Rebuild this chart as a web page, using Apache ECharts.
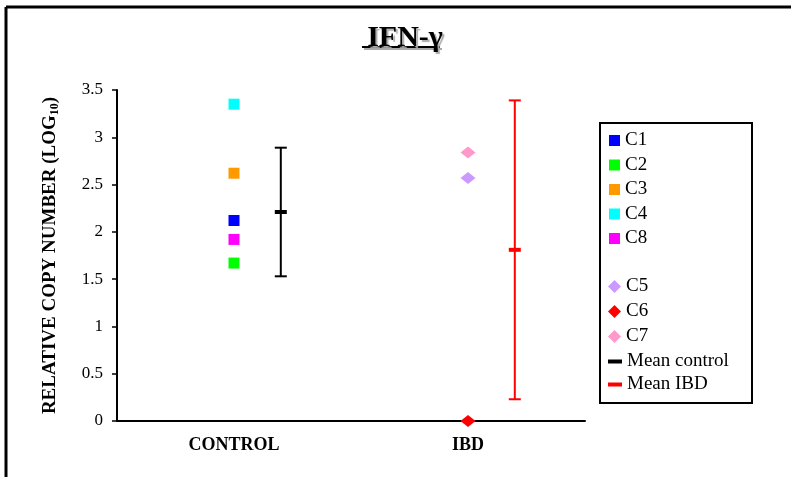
<!DOCTYPE html>
<html>
<head>
<meta charset="utf-8">
<script src="https://cdn.jsdelivr.net/npm/echarts@6/dist/echarts.min.js"></script>
<style>
  html, body { margin: 0; padding: 0; background: #fff; }
  #chart { width: 791px; height: 477px; }
</style>
</head>
<body>
<div id="chart"></div>
<script>
// groups on the x axis
const groups = ['CONTROL', 'IBD']
const groupX = [0.5, 1.5] // centre of each group on the 0..2 value axis
const meanX = [0.7, 1.7] // where the mean bars sit

// individual samples (log10 relative copy number)
const controlNames = ['C1', 'C2', 'C3', 'C4', 'C8']
const controlValues = [2.12, 1.67, 2.62, 3.35, 1.92]
const controlColors = ['#0000ff', '#00ff00', '#ff9900', '#00ffff', '#ff00ff']

const ibdNames = ['C5', 'C6', 'C7']
const ibdValues = [2.57, 0, 2.84]
const ibdColors = ['#cc99ff', '#ff0000', '#ff99cc']

// mean with low / high whiskers
const meanNames = ['Mean control', 'Mean IBD']
const meanValues = [2.21, 1.81]
const meanLow = [1.53, 0.23]
const meanHigh = [2.89, 3.39]
const meanColors = ['#000000', '#ff0000']

const yTicks = [0, 0.5, 1, 1.5, 2, 2.5, 3, 3.5]

const serif = '"Liberation Serif", "Times New Roman", serif'

const series = []
controlNames.forEach((name, i) => {
  series.push({
    name: name,
    type: 'scatter',
    symbol: 'rect',
    symbolSize: 11,
    itemStyle: { color: controlColors[i], opacity: 1 },
    data: [[groupX[0], controlValues[i]]],
    z: 3
  })
})
ibdNames.forEach((name, i) => {
  series.push({
    name: name,
    type: 'scatter',
    symbol: 'diamond',
    symbolSize: [15, 12],
    itemStyle: { color: ibdColors[i], opacity: 1 },
    data: [[groupX[1], ibdValues[i]]],
    z: 4
  })
})
meanNames.forEach((name, i) => {
  series.push({
    name: name,
    type: 'custom',
    itemStyle: { color: meanColors[i] },
    data: [[meanX[i], meanValues[i], meanLow[i], meanHigh[i]]],
    renderItem: function(params, api) {
      const mid = api.coord([api.value(0), api.value(1)])
      const lo = api.coord([api.value(0), api.value(2)])
      const hi = api.coord([api.value(0), api.value(3)])
      const col = meanColors[i]
      const thin = { stroke: col, lineWidth: 2 }
      return {
        type: 'group',
        children: [
          { type: 'line', shape: { x1: hi[0], y1: hi[1], x2: lo[0], y2: lo[1] }, style: thin },
          { type: 'line', shape: { x1: hi[0] - 6, y1: hi[1], x2: hi[0] + 6, y2: hi[1] }, style: thin },
          { type: 'line', shape: { x1: lo[0] - 6, y1: lo[1], x2: lo[0] + 6, y2: lo[1] }, style: thin },
          { type: 'line', shape: { x1: mid[0] - 6, y1: mid[1], x2: mid[0] + 6, y2: mid[1] }, style: { stroke: col, lineWidth: 4 } }
        ]
      }
    }
  })
})

const legendText = { fontFamily: serif, fontSize: 19, color: '#000' }

const myChart = echarts.init(document.getElementById('chart'))
const option = {
  animation: false,
  backgroundColor: '#fff',
  title: {
    text: 'IFN-γ',
    left: 400,
    textAlign: 'center',
    top: 18,
    textStyle: {
      fontFamily: serif,
      fontSize: 30,
      fontWeight: 'bold',
      color: '#000',
      textShadowColor: '#aaa',
      textShadowOffsetX: 2,
      textShadowOffsetY: 2,
      textShadowBlur: 1
    }
  },
  graphic: [
    { type: 'line', shape: { x1: 6, y1: 7, x2: 791, y2: 7 }, style: { stroke: '#000', lineWidth: 3 } },
    { type: 'line', shape: { x1: 6, y1: 7, x2: 6, y2: 477 }, style: { stroke: '#000', lineWidth: 3 } },
    { type: 'line', shape: { x1: 362, y1: 47, x2: 440, y2: 47 }, style: { stroke: '#000', lineWidth: 2, shadowColor: '#aaa', shadowOffsetX: 2, shadowOffsetY: 2 } },
    { type: 'rect', shape: { x: 600, y: 123, width: 152, height: 280 }, style: { fill: 'none', stroke: '#000', lineWidth: 2 }, z: 10 }
  ],
  legend: [
    {
      orient: 'vertical',
      left: 609,
      top: 131,
      itemWidth: 11,
      itemHeight: 11,
      itemGap: 5.5,
      padding: 0,
      textStyle: legendText,
      data: controlNames.map(n => ({ name: n, icon: 'rect' }))
    },
    {
      orient: 'vertical',
      left: 608,
      top: 277,
      itemWidth: 13,
      itemHeight: 13,
      itemGap: 6,
      padding: 0,
      textStyle: legendText,
      data: ibdNames.map(n => ({ name: n, icon: 'diamond' }))
    },
    {
      orient: 'vertical',
      left: 608,
      top: 352,
      itemWidth: 14,
      itemHeight: 4,
      itemGap: 4,
      padding: 0,
      textStyle: legendText,
      data: meanNames.map(n => ({ name: n, icon: 'rect' }))
    }
  ],
  grid: {
    left: 117,
    right: 206,
    top: 90,
    bottom: 56
  },
  xAxis: [
    {
      type: 'value',
      min: 0,
      max: 2,
      axisLine: { show: true, onZero: false, lineStyle: { color: '#000', width: 2 } },
      axisTick: { show: false },
      axisLabel: { show: false },
      splitLine: { show: false }
    },
    {
      type: 'category',
      position: 'bottom',
      data: groups,
      axisLine: { show: false },
      axisTick: { show: false },
      axisLabel: {
        margin: 15,
        fontFamily: serif,
        fontSize: 18,
        fontWeight: 'bold',
        color: '#000'
      }
    }
  ],
  yAxis: {
    type: 'value',
    min: yTicks[0],
    max: yTicks[yTicks.length - 1],
    interval: 0.5,
    name: '{b|RELATIVE COPY NUMBER (LOG}{s|10}{b|)}',
    nameLocation: 'middle',
    nameRotate: 90,
    nameGap: 56,
    nameTextStyle: {
      rich: {
        b: { fontFamily: serif, fontSize: 19, fontWeight: 'bold', color: '#000' },
        s: { fontFamily: serif, fontSize: 12, fontWeight: 'bold', color: '#000', padding: [9, 0, 0, 0] }
      }
    },
    axisLine: { show: true, lineStyle: { color: '#000', width: 2 } },
    axisTick: { show: true, length: 5, lineStyle: { color: '#000', width: 1.5 } },
    axisLabel: {
      margin: 14,
      fontFamily: serif,
      fontSize: 17,
      color: '#000',
      formatter: v => String(v)
    },
    splitLine: { show: false }
  },
  series: series
}
myChart.setOption(option)
</script>
</body>
</html>
